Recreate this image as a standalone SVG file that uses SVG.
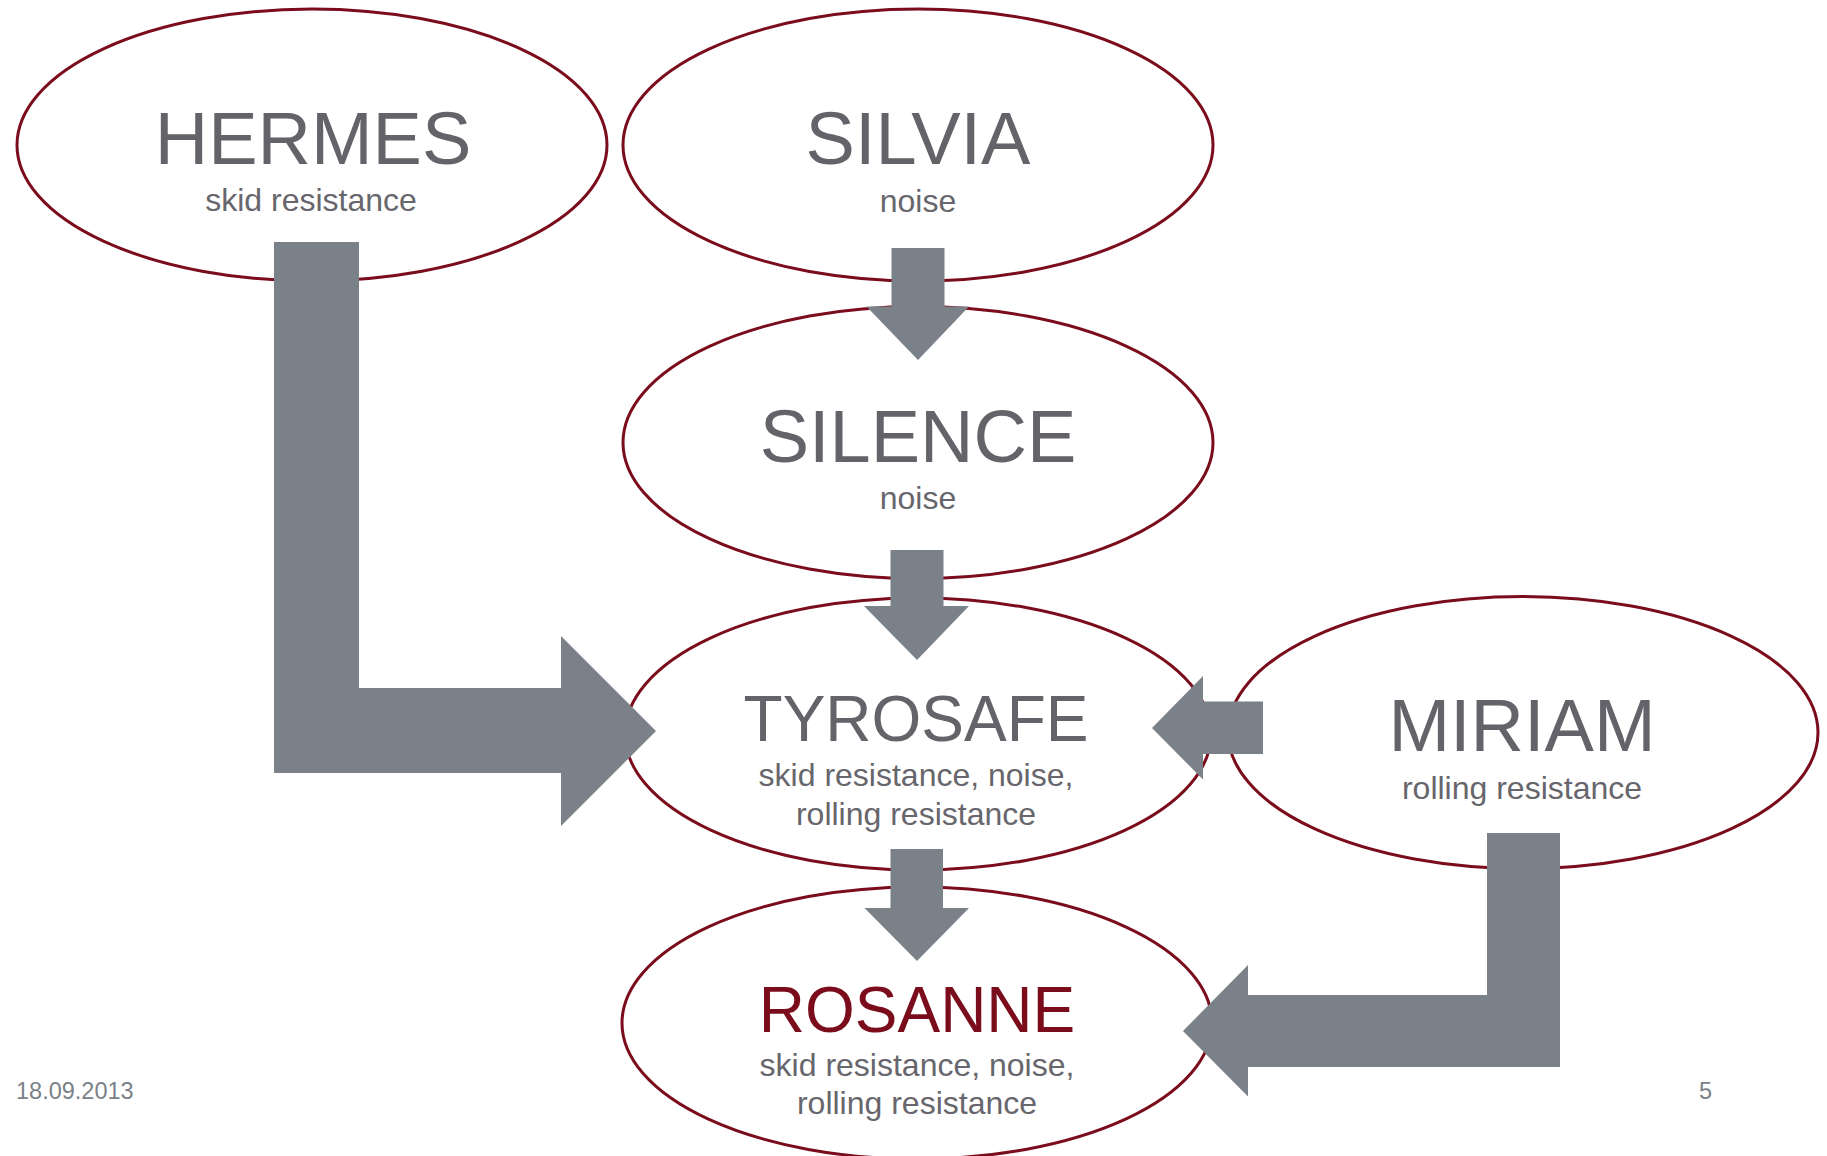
<svg xmlns="http://www.w3.org/2000/svg" width="1827" height="1156" viewBox="0 0 1827 1156">
<style>
.node ellipse{fill:#fff;stroke:#7a0c1c;stroke-width:3}
.t{font-family:"Liberation Sans",Arial,sans-serif;fill:#646369;text-anchor:middle;font-size:74px}
.ts{font-size:64px}
.s{font-family:"Liberation Sans",Arial,sans-serif;fill:#67666c;text-anchor:middle;font-size:32px}
.arrows path{fill:#7b8188}
.foot{font-family:"Liberation Sans",Arial,sans-serif;fill:#7b8188;font-size:23.5px}
</style>
<rect width="1827" height="1156" fill="#fff"/>
<g id="hermes" class="node"><ellipse cx="312" cy="145" rx="295" ry="136"/><text class="t" x="313" y="164">HERMES</text><text class="s" x="311" y="211">skid resistance</text></g>
<g id="silvia" class="node"><ellipse cx="918" cy="145" rx="295" ry="136"/><text class="t" x="918" y="164">SILVIA</text><text class="s" x="918" y="211.5">noise</text></g>
<g id="silence" class="node"><ellipse cx="918" cy="442.5" rx="295" ry="136"/><text class="t" x="918" y="461.5">SILENCE</text><text class="s" x="918" y="508.5">noise</text></g>
<g id="tyrosafe" class="node"><ellipse cx="918" cy="734" rx="293" ry="136"/><text class="t ts" x="916" y="741">TYROSAFE</text><text class="s" x="916" y="786">skid resistance, noise,</text><text class="s" x="916" y="825">rolling resistance</text></g>
<g id="miriam" class="node"><ellipse cx="1523" cy="732.5" rx="295" ry="136"/><text class="t" x="1522" y="751">MIRIAM</text><text class="s" x="1522" y="798.5">rolling resistance</text></g>
<g id="rosanne" class="node"><ellipse cx="917" cy="1023" rx="295" ry="136"/><text class="t ts" x="917" y="1031.5" style="fill:#7a0c1c">ROSANNE</text><text class="s" x="917" y="1076">skid resistance, noise,</text><text class="s" x="917" y="1114">rolling resistance</text></g>
<g id="connectors" class="arrows">
<path d="M274,242 H359 V688 H561 V636 L656,731 L561,826 V773 H274 Z"/>
<path d="M891.5,248 H944.5 V306.5 H969 L918,360 L866.5,306.5 H891.5 Z"/>
<path d="M890.5,550 H943.5 V606 H969 L917,660 L864,606 H890.5 Z"/>
<path d="M1263,701.5 V754 H1203 V779.5 L1152,728 L1203,676 V701.5 Z"/>
<path d="M890.5,849 H943 V908 H969 L917,961 L864.5,908 H890.5 Z"/>
<path d="M1487,833 H1560 V1067 H1248 V1096.5 L1183,1031 L1248,965 V995 H1487 Z"/>
</g>
<text class="foot" x="16" y="1099">18.09.2013</text>
<text class="foot" x="1699" y="1099">5</text>
</svg>
